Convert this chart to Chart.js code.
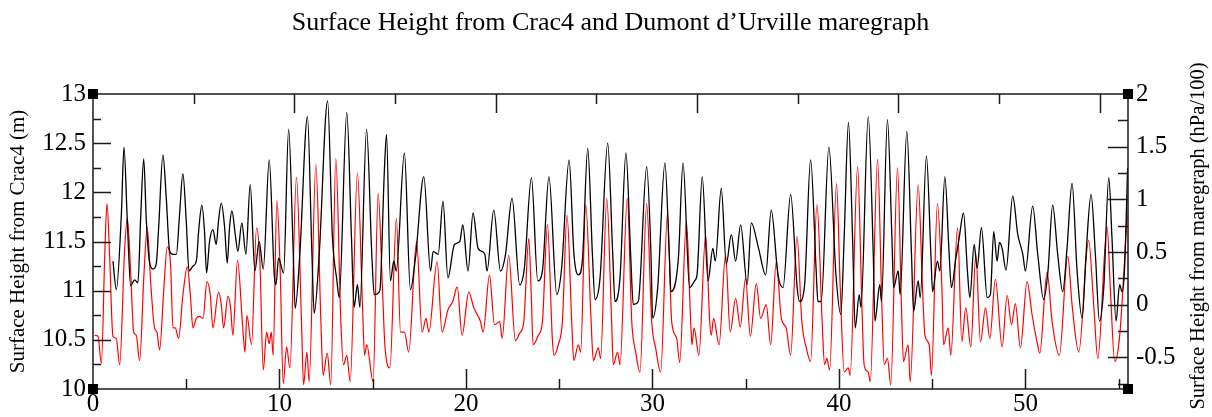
<!DOCTYPE html>
<html>
<head>
<meta charset="utf-8">
<script src="https://cdn.jsdelivr.net/npm/chart.js@4/dist/chart.umd.min.js"></script>
<style>
  html, body { margin: 0; padding: 0; background: #fff; }
</style>
</head>
<body>
<canvas id="tide-chart" width="1212" height="417"></canvas>
<script>
// Crac4 surface height (m), left axis
const crac4Days = [
  1.07, 1.25, 1.52, 1.66, 1.84, 2.02, 2.23, 2.41, 2.55, 2.72,
  2.86, 3.04, 3.22, 3.39, 3.52, 3.75, 3.93, 4.11, 4.29, 4.47,
  4.64, 4.82, 5.00, 5.15, 5.36, 5.54, 5.68, 5.84, 5.98, 6.09,
  6.25, 6.43, 6.61, 6.73, 6.88, 7.06, 7.20, 7.32, 7.45, 7.63,
  7.77, 7.98, 8.20, 8.43, 8.68, 8.91, 9.13, 9.45, 9.72, 9.81,
  9.95, 10.22, 10.49, 10.74, 10.84, 11.09, 11.50, 11.74, 11.86, 12.13,
  12.58, 12.84, 13.08, 13.20, 13.61, 13.86, 14.00, 14.18, 14.31, 14.67,
  14.95, 15.08, 15.38, 15.62, 15.74, 15.95, 16.13, 16.26, 16.70, 17.02,
  17.29, 17.74, 18.10, 18.24, 18.51, 18.77, 19.03, 19.38, 19.67, 19.83,
  20.11, 20.38, 20.65, 21.01, 21.13, 21.49, 21.85, 22.12, 22.47, 22.88,
  23.13, 23.51, 23.85, 24.10, 24.45, 24.87, 25.13, 25.53, 25.79, 26.03,
  26.24, 26.53, 26.78, 26.92, 27.19, 27.60, 27.87, 27.99, 28.26, 28.58,
  28.83, 28.97, 29.24, 29.69, 29.92, 30.01, 30.28, 30.67, 30.90, 30.99,
  31.39, 31.64, 31.99, 32.26, 32.39, 32.67, 32.98, 33.24, 33.37, 33.69,
  33.96, 34.23, 34.46, 34.73, 35.08, 35.30, 35.69, 36.07, 36.37, 36.73,
  37.00, 37.41, 37.76, 37.89, 38.16, 38.48, 38.78, 38.87, 39.05, 39.46,
  39.84, 40.10, 40.28, 40.51, 40.73, 40.87, 41.09, 41.18, 41.57, 41.84,
  41.93, 42.19, 42.28, 42.60, 42.84, 42.93, 43.18, 43.28, 43.64, 43.89,
  44.00, 44.25, 44.36, 44.69, 44.93, 45.02, 45.28, 45.41, 45.68, 45.91,
  46.03, 46.27, 46.45, 46.68, 46.89, 47.02, 47.25, 47.41, 47.64, 47.95,
  48.12, 48.30, 48.48, 48.61, 48.75, 48.96, 49.32, 49.59, 49.86, 50.00,
  50.39, 50.66, 50.98, 51.21, 51.46, 51.73, 52.00, 52.23, 52.50, 52.77,
  53.04, 53.25, 53.52, 53.75, 53.97, 54.20, 54.47, 54.64, 54.86, 55.05,
  55.18, 55.31, 55.48
];
const crac4Height = [
  11.30, 11.01, 11.77, 12.46, 11.71, 11.05, 11.11, 11.08, 11.71, 12.34,
  11.71, 11.28, 11.22, 11.27, 11.64, 12.38, 11.94, 11.40, 11.37, 11.37,
  11.77, 12.19, 11.71, 11.20, 11.25, 11.30, 11.64, 11.87, 11.60, 11.18,
  11.50, 11.62, 11.47, 11.71, 11.89, 11.64, 11.28, 11.64, 11.81, 11.57,
  11.40, 11.69, 11.37, 12.08, 11.20, 11.50, 11.22, 12.33, 11.16, 11.06,
  11.33, 11.18, 12.64, 11.37, 10.82, 11.37, 12.77, 11.37, 10.77, 11.37,
  12.93, 11.54, 11.10, 10.93, 12.81, 11.54, 10.83, 11.06, 10.83, 12.64,
  11.37, 10.96, 11.00, 12.20, 12.59, 11.10, 11.30, 11.20, 12.40, 11.01,
  11.33, 12.16, 11.20, 11.40, 11.37, 11.91, 11.13, 11.47, 11.50, 11.67,
  11.20, 11.79, 11.43, 11.37, 11.20, 11.82, 11.20, 11.37, 11.94, 11.06,
  11.23, 12.15, 11.10, 11.20, 12.16, 10.96, 11.23, 12.33, 11.37, 11.16,
  11.30, 12.45, 11.37, 10.91, 11.13, 12.50, 11.37, 10.89, 11.13, 12.40,
  11.37, 10.86, 10.89, 12.26, 11.37, 10.72, 11.03, 12.30, 11.37, 10.99,
  11.33, 12.30, 11.03, 11.10, 11.16, 12.16, 11.10, 11.43, 11.30, 12.04,
  11.27, 11.57, 11.30, 11.67, 11.06, 11.69, 11.43, 11.16, 11.82, 11.16,
  11.03, 11.98, 11.03, 10.89, 11.06, 12.33, 11.20, 10.89, 10.89, 12.46,
  11.16, 10.76, 11.54, 12.71, 11.54, 10.62, 10.96, 10.83, 12.77, 11.37,
  10.69, 11.06, 10.89, 12.74, 11.54, 11.03, 11.20, 10.96, 12.62, 11.37,
  10.79, 11.10, 10.93, 12.37, 11.37, 10.99, 11.30, 11.20, 12.16, 11.37,
  11.03, 11.33, 11.54, 11.79, 11.20, 10.93, 11.47, 11.23, 11.64, 10.93,
  10.96, 11.60, 11.30, 11.49, 11.43, 11.21, 11.96, 11.57, 11.37, 11.20,
  11.86, 11.37, 10.91, 11.20, 11.87, 11.37, 10.99, 11.43, 12.09, 11.20,
  10.72, 11.37, 11.98, 11.37, 10.69, 11.03, 12.15, 11.54, 10.69, 11.06,
  10.99, 11.20, 12.25
];

// Dumont d'Urville maregraph (hPa/100), right axis
const mareDays = [
  0.09, 0.27, 0.45, 0.63, 0.75, 0.89, 1.07, 1.25, 1.43, 1.70,
  1.84, 2.02, 2.18, 2.32, 2.50, 2.73, 2.91, 3.09, 3.30, 3.43,
  3.57, 3.80, 3.98, 4.16, 4.29, 4.41, 4.59, 4.82, 5.06, 5.22,
  5.36, 5.54, 5.72, 5.90, 6.11, 6.29, 6.43, 6.73, 6.88, 7.00,
  7.24, 7.38, 7.50, 7.75, 8.02, 8.15, 8.25, 8.50, 8.77, 8.95,
  9.13, 9.31, 9.45, 9.56, 9.66, 9.86, 10.04, 10.20, 10.38, 10.56,
  10.91, 11.18, 11.29, 11.47, 11.59, 11.95, 12.22, 12.34, 12.56, 12.75,
  13.02, 13.29, 13.43, 13.61, 13.79, 14.18, 14.45, 14.56, 14.68, 15.02,
  15.29, 15.52, 15.65, 15.92, 16.27, 16.49, 16.70, 16.93, 17.35, 17.65,
  17.86, 18.01, 18.45, 18.72, 19.03, 19.29, 19.53, 19.79, 20.15, 20.42,
  20.78, 20.92, 21.26, 21.53, 21.81, 21.94, 22.29, 22.65, 22.88, 23.10,
  23.37, 23.50, 23.60, 23.88, 24.10, 24.37, 24.63, 24.72, 24.95, 25.17,
  25.42, 25.67, 25.78, 26.03, 26.15, 26.42, 26.71, 26.83, 27.10, 27.22,
  27.55, 27.81, 27.90, 28.13, 28.26, 28.65, 28.89, 29.10, 29.33, 29.69,
  29.96, 30.17, 30.44, 30.81, 31.03, 31.30, 31.46, 31.82, 32.05, 32.12,
  32.23, 32.49, 32.85, 33.07, 33.15, 33.28, 33.57, 33.92, 34.17, 34.46,
  34.71, 34.99, 35.25, 35.57, 35.80, 36.10, 36.34, 36.64, 36.91, 37.17,
  37.41, 37.75, 38.01, 38.25, 38.48, 38.82, 39.10, 39.23, 39.35, 39.50,
  39.87, 40.07, 40.28, 40.50, 40.60, 41.00, 41.23, 41.35, 41.57, 41.68,
  42.07, 42.30, 42.43, 42.60, 42.78, 43.14, 43.35, 43.46, 43.71, 43.82,
  44.25, 44.48, 44.61, 44.84, 44.96, 45.28, 45.52, 45.61, 45.86, 46.00,
  46.36, 46.59, 46.80, 47.07, 47.34, 47.59, 47.86, 48.09, 48.39, 48.75,
  49.02, 49.25, 49.46, 49.73, 50.09, 50.36, 50.62, 50.77, 51.16, 51.43,
  51.82, 52.27, 52.50, 52.86, 53.39, 53.66, 53.88, 54.38, 54.55, 54.79,
  55.04, 55.23, 55.45
];
const mareHeight = [
  -0.29, -0.30, -0.56, 0.47, 0.96, 0.47, -0.30, -0.32, -0.57, 0.54,
  0.82, 0.31, -0.26, -0.29, -0.53, 0.28, 0.73, 0.22, -0.22, -0.26,
  -0.43, 0.16, 0.55, 0.38, -0.22, -0.22, -0.32, 0.09, 0.36, 0.09,
  -0.22, -0.13, -0.11, -0.13, 0.22, 0.09, -0.22, 0.12, 0.00, -0.22,
  0.08, -0.03, -0.29, 0.42, -0.19, -0.45, -0.10, -0.38, 0.73, 0.41,
  -0.62, -0.26, -0.37, -0.26, -0.48, 0.99, 0.31, -0.75, -0.40, -0.60,
  1.21, -0.16, -0.76, -0.45, -0.73, 1.33, -0.16, -0.67, -0.46, -0.76,
  1.39, -0.16, -0.57, -0.48, -0.73, 1.25, 0.00, -0.48, -0.38, -0.73,
  1.06, 0.16, -0.38, -0.60, 0.82, -0.26, -0.26, -0.45, 0.60, -0.26,
  -0.13, -0.26, 0.41, -0.26, -0.05, 0.03, 0.17, -0.29, 0.12, -0.03,
  -0.16, -0.26, 0.28, -0.19, -0.16, -0.32, 0.47, -0.34, -0.27, -0.16,
  0.63, 0.10, -0.38, -0.29, -0.16, 0.76, -0.32, -0.48, -0.38, -0.16,
  0.85, -0.16, -0.53, -0.38, -0.45, 0.95, -0.16, -0.53, -0.41, -0.51,
  1.01, -0.16, -0.57, -0.45, -0.57, 1.01, -0.16, -0.45, -0.64, 0.96,
  -0.16, -0.41, -0.64, 0.87, -0.16, -0.32, -0.55, 0.79, -0.16, -0.38,
  -0.22, -0.48, 0.66, -0.16, -0.29, -0.13, -0.38, 0.47, -0.26, 0.06,
  -0.21, 0.25, -0.30, 0.20, -0.13, 0.00, -0.38, 0.41, -0.13, -0.22,
  -0.48, 0.65, -0.16, -0.41, -0.54, 0.95, -0.16, -0.57, -0.51, -0.62,
  1.15, 0.16, -0.64, -0.60, -0.67, 1.31, 0.00, -0.57, -0.64, -0.73,
  1.38, 0.00, -0.57, -0.51, -0.76, 1.30, 0.00, -0.54, -0.38, -0.73,
  1.14, 0.16, -0.29, -0.38, -0.67, 0.96, 0.16, -0.38, -0.22, -0.48,
  0.73, -0.35, -0.03, -0.40, 0.48, -0.35, -0.03, -0.32, 0.24, -0.40,
  0.09, -0.19, 0.01, -0.41, 0.22, -0.10, -0.35, -0.46, 0.31, -0.16,
  -0.48, 0.46, 0.00, -0.45, 0.61, 0.00, -0.51, 0.74, 0.16, -0.54,
  -0.32, 0.16, 0.85
];

const xTickLabels = [0, 10, 20, 30, 40, 50];
const leftTickLabels = [10, 10.5, 11, 11.5, 12, 12.5, 13];
const rightTickLabels = [-0.5, 0, 0.5, 1, 1.5, 2];

const chartTitle = "Surface Height from Crac4 and Dumont d\u2019Urville maregraph";
const leftTitle = "Surface Height from Crac4 (m)";
const rightTitle = "Surface Height from maregraph (hPa/100)";

const serif = "'Liberation Serif', 'Times New Roman', 'DejaVu Serif', serif";

function toPoints(xs, ys) {
  return xs.map((x, i) => ({ x: x, y: ys[i] }));
}

// frame, inward tick marks, corner squares and titles (xmgrace look)
const graceFrame = {
  id: "graceFrame",
  afterDatasetsDraw(chart) {
    const c = chart.ctx;
    const a = chart.chartArea;
    const sx = chart.scales.x, sy = chart.scales.y, sy2 = chart.scales.y2, sxTop = chart.scales.xTop;
    c.save();
    c.strokeStyle = "#1a1a1a";
    c.lineWidth = 1.5;
    c.strokeRect(a.left, a.top, a.right - a.left, a.bottom - a.top);

    c.beginPath();
    for (let k = 1; k <= 11; k++) {
      const p = Math.round(sx.getPixelForValue(k * 5)) + 0.5;
      c.moveTo(p, a.bottom);
      c.lineTo(p, a.bottom - (k % 2 === 0 ? 20 : 10));
    }
    for (let k = 1; k <= 10; k++) {
      const p = Math.round(sxTop.getPixelForValue(k * 0.5)) + 0.5;
      c.moveTo(p, a.top);
      c.lineTo(p, a.top + (k % 2 === 0 ? 19 : 10));
    }
    for (let k = 1; k <= 11; k++) {
      const p = Math.round(sy.getPixelForValue(10 + k * 0.25)) + 0.5;
      c.moveTo(a.left, p);
      c.lineTo(a.left + (k % 2 === 0 ? 18 : 8), p);
    }
    for (let k = 0; k <= 10; k++) {
      const p = Math.round(sy2.getPixelForValue(-0.75 + k * 0.25)) + 0.5;
      c.moveTo(a.right, p);
      c.lineTo(a.right - (k % 2 === 1 ? 20 : 10), p);
    }
    c.stroke();

    c.fillStyle = "#000";
    [[a.left, a.top], [a.right, a.top], [a.left, a.bottom], [a.right, a.bottom]].forEach(function (pt) {
      c.fillRect(pt[0] - 5, pt[1] - 5, 10, 10);
    });

    c.textAlign = "center";
    c.textBaseline = "middle";
    c.font = "26px " + serif;
    c.fillText(chartTitle, (a.left + a.right) / 2, 23);

    c.translate(1199, 236);
    c.rotate(-Math.PI / 2);
    c.font = "20.5px " + serif;
    c.fillText(rightTitle, 0, 0);
    c.restore();
  }
};

const ctx = document.getElementById("tide-chart").getContext("2d");
const tideChart = new Chart(ctx, {
  type: "line",
  data: {
    datasets: [
      {
        label: "Crac4",
        data: toPoints(crac4Days, crac4Height),
        borderColor: "#000000",
        borderWidth: 1.3,
        pointRadius: 0,
        cubicInterpolationMode: "monotone",
        yAxisID: "y",
        xAxisID: "x",
      },
      {
        label: "maregraph",
        data: toPoints(mareDays, mareHeight),
        borderColor: "#ff0000",
        borderWidth: 1.2,
        pointRadius: 0,
        cubicInterpolationMode: "monotone",
        yAxisID: "y2",
        xAxisID: "x",
      },
    ],
  },
  options: {
    responsive: false,
    animation: false,
    layout: { padding: { top: 94, left: 0, right: 0, bottom: 0 } },
    plugins: { legend: { display: false }, tooltip: { enabled: false }, title: { display: false } },
    scales: {
      x: {
        type: "linear",
        position: "bottom",
        min: 0,
        max: 55.5,
        afterBuildTicks: (s) => { s.ticks = xTickLabels.map((v) => ({ value: v })); },
        afterFit: (s) => { s.height = 28; },
        grid: { display: false, drawTicks: false },
        border: { display: false },
        ticks: { color: "#000", padding: 0, maxRotation: 0, font: { family: serif, size: 25 }, callback: (v) => String(v) },
      },
      xTop: {
        type: "linear",
        position: "top",
        display: false,
        min: 0,
        max: 5.14,
      },
      y: {
        type: "linear",
        position: "left",
        min: 10,
        max: 13,
        afterBuildTicks: (s) => { s.ticks = leftTickLabels.map((v) => ({ value: v })); },
        afterFit: (s) => { s.width = 93; },
        grid: { display: false, drawTicks: false },
        border: { display: false },
        ticks: { color: "#000", padding: 7, font: { family: serif, size: 25 }, callback: (v) => String(v) },
        title: { display: true, text: leftTitle, color: "#000", padding: { top: 6, bottom: 0 }, font: { family: serif, size: 21 } },
      },
      y2: {
        type: "linear",
        position: "right",
        min: -0.8,
        max: 2,
        afterBuildTicks: (s) => { s.ticks = rightTickLabels.map((v) => ({ value: v })); },
        afterFit: (s) => { s.width = 84; },
        grid: { display: false, drawTicks: false },
        border: { display: false },
        ticks: { color: "#000", padding: 8, font: { family: serif, size: 25 }, callback: (v) => String(v) },
      },
    },
  },
  plugins: [graceFrame],
});
</script>
</body>
</html>
